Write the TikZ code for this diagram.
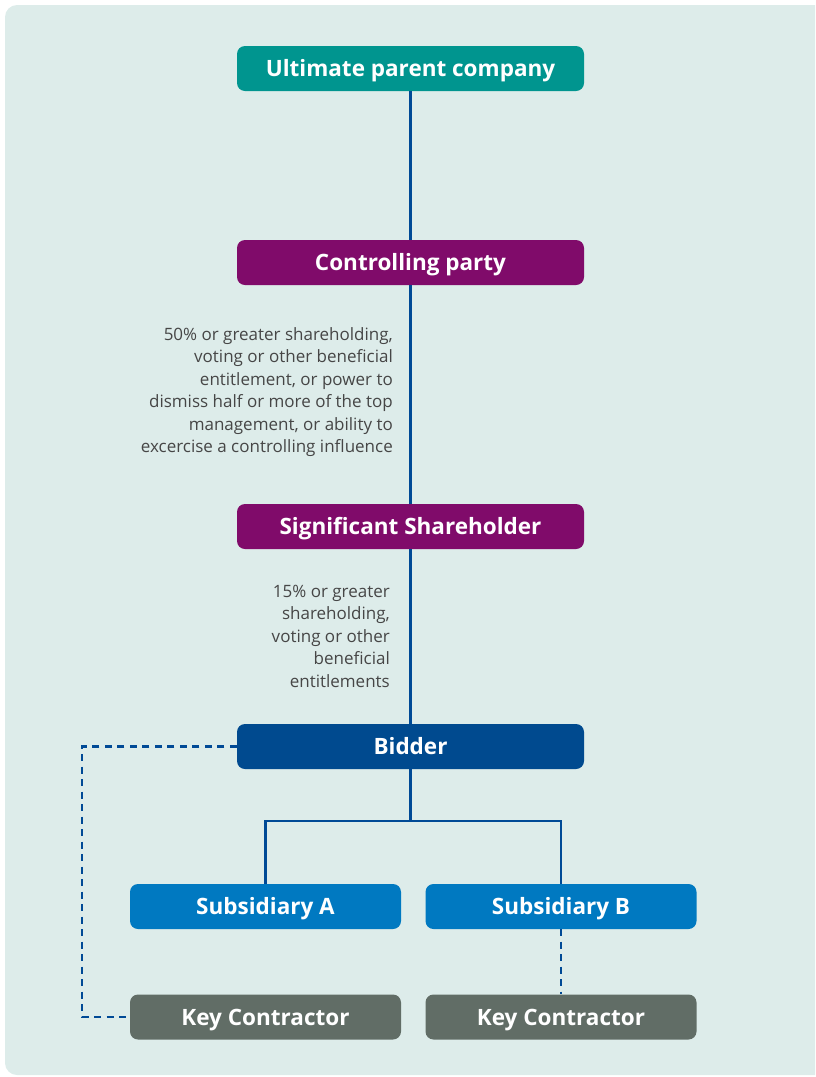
\documentclass[tikz,border=0pt]{standalone}
\usepackage{fontspec}
\setmainfont{Open Sans}
\usetikzlibrary{positioning}
\definecolor{panelbg}{RGB}{221,236,234}
\definecolor{parentteal}{RGB}{0,149,143}
\definecolor{controlpurple}{RGB}{128,11,106}
\definecolor{bidderblue}{RGB}{0,74,143}
\definecolor{subblue}{RGB}{0,121,193}
\definecolor{contractgrey}{RGB}{97,109,102}
\definecolor{linkblue}{RGB}{0,74,150}
\definecolor{notegrey}{RGB}{70,70,70}

\begin{document}
\begin{tikzpicture}[
x=1pt, y=-1pt,
box/.style={
  rounded corners=8pt,
  minimum width=347pt,
  minimum height=45pt,
  inner sep=0pt,
  text height=16pt,
  text depth=0pt,
  text=white,
  font=\fontsize{22.5}{25}\selectfont\bfseries
  },
smallbox/.style={
  box,
  minimum width=271pt
  },
link/.style={
  draw=linkblue,
  line width=2.6pt
  },
dlink/.style={
  link,
  line width=2.8pt,
  dash pattern=on 7pt off 5.5pt
  },
note/.style={
  align=right,
  inner sep=0pt,
  anchor=east,
  text=notegrey,
  font=\fontsize{17}{22.5}\selectfont
  }
]
\useasboundingbox (0,0) rectangle (815,1077);
\clip (0,0) rectangle (815,1077);
\fill[panelbg, rounded corners=12pt] (5,5) rectangle (840,1075);

\node[box, fill=parentteal] (parent) at (410.5,68.5) {Ultimate parent company};
\node[box, fill=controlpurple] (control) at (410.5,262.5) {Controlling party};
\node[box, fill=controlpurple] (shareholder) at (410.5,526.5) {Significant Shareholder};
\node[box, fill=bidderblue] (bidder) at (410.5,746.5) {Bidder};
\node[smallbox, fill=subblue] (subA) at (265.5,906.5) {Subsidiary A};
\node[smallbox, fill=subblue] (subB) at (561,906.5) {Subsidiary B};
\node[smallbox, fill=contractgrey] (keyA) at (265.5,1017) {Key Contractor};
\node[smallbox, fill=contractgrey] (keyB) at (561,1017) {Key Contractor};

\node[note] (controlnote) at (393,392) {50\% or greater shareholding,\\
  voting or other beneficial\\entitlement, or power to\\
  dismiss half or more of the top\\management, or ability to\\
  excercise a controlling influence};
\node[note] (sharenote) at (390,636) {15\% or greater\\shareholding,\\
  voting or other\\beneficial\\entitlements};

\coordinate (split) at (410.5,821);
\coordinate (loop) at (82,746.5);

\draw[link] (parent) -- (control);
\draw[link] (control) -- (shareholder);
\draw[link] (shareholder) -- (bidder);
\draw[link] (bidder) -- (split);
\draw[link] (subA.north) |- (split) -| (subB.north);
\draw[dlink] (bidder.west) -- (loop) |- (keyA.west);
\draw[dlink] (subB) -- (keyB);
\end{tikzpicture}
\end{document}
